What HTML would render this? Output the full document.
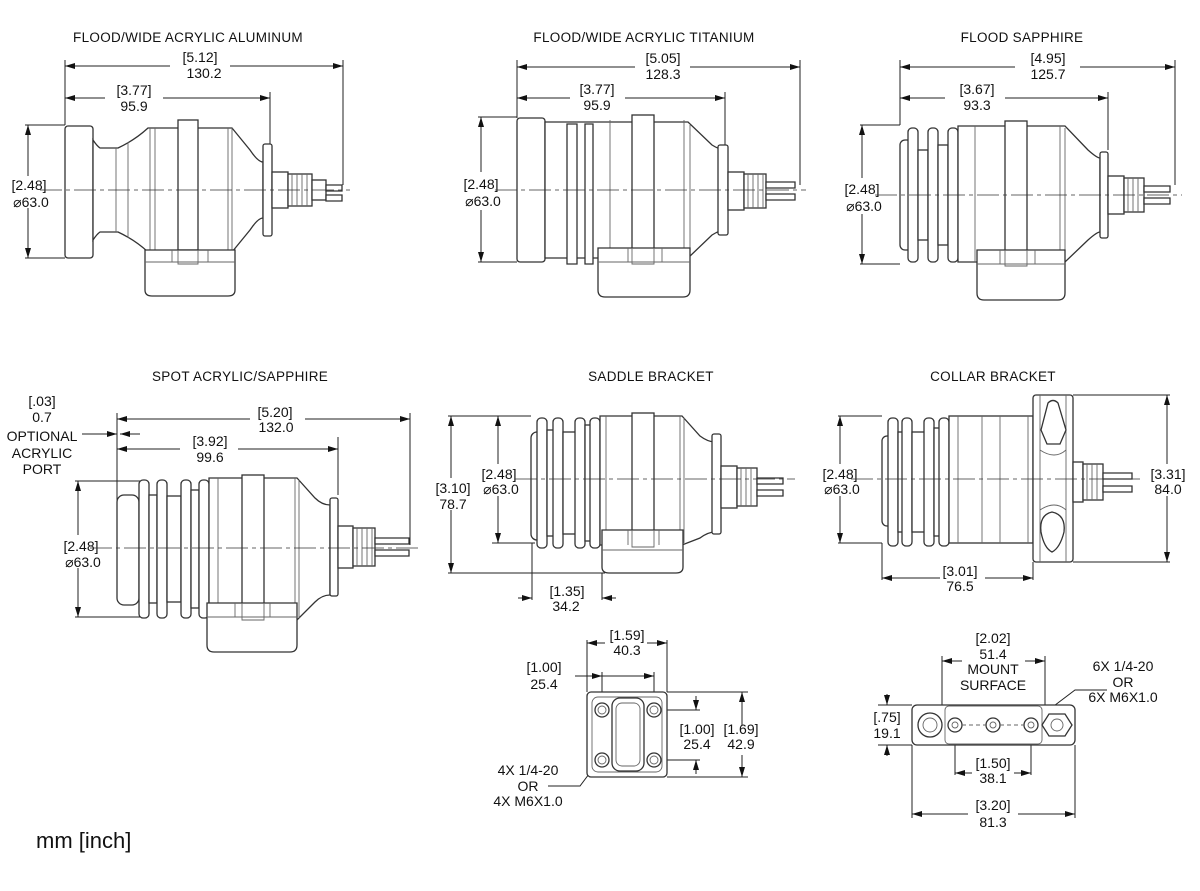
<!DOCTYPE html>
<html><head><meta charset="utf-8"><style>
html,body{margin:0;padding:0;background:#fff}
svg{display:block}
text{font-family:"Liberation Sans",Arial,sans-serif;font-size:14px;fill:#111}
.t{font-size:13.5px;letter-spacing:0.3px}
.d{stroke:#222;stroke-width:1;fill:none}
.b{stroke:#333;stroke-width:1.3;fill:#fff}
.l{stroke:#666;stroke-width:0.9;fill:none}
.c{stroke:#333;stroke-width:0.8;fill:none;stroke-dasharray:22 4 4 4}
</style></head><body>
<svg width="1200" height="891" viewBox="0 0 1200 891" xmlns="http://www.w3.org/2000/svg">
<defs>
<marker id="a" viewBox="0 0 10 6" refX="10" refY="3" markerWidth="10" markerHeight="6" orient="auto-start-reverse" markerUnits="userSpaceOnUse"><path d="M0,0 L10,3 L0,6z" fill="#111"/></marker>
</defs>
<g text-anchor="middle">
<text class="t" x="188" y="42">FLOOD/WIDE ACRYLIC ALUMINUM</text>
<text class="t" x="644" y="42">FLOOD/WIDE ACRYLIC TITANIUM</text>
<text class="t" x="1022" y="42">FLOOD SAPPHIRE</text>
<text class="t" x="240" y="381">SPOT ACRYLIC/SAPPHIRE</text>
<text class="t" x="651" y="381">SADDLE BRACKET</text>
<text class="t" x="993" y="381">COLLAR BRACKET</text>

<!-- ===== D1 ===== -->
<path class="d" d="M65,60V125 M343,60V185 M270,92V150 M25,125H65 M25,258H65"/>
<line class="d" x1="65" y1="66" x2="170" y2="66" marker-start="url(#a)"/><line class="d" x1="230" y1="66" x2="343" y2="66" marker-end="url(#a)"/>
<line class="d" x1="65" y1="98" x2="105" y2="98" marker-start="url(#a)"/><line class="d" x1="163" y1="98" x2="270" y2="98" marker-end="url(#a)"/>
<line class="d" x1="28" y1="125" x2="28" y2="176" marker-start="url(#a)"/><line class="d" x1="28" y1="208" x2="28" y2="258" marker-end="url(#a)"/>
<text x="200" y="62">[5.12]</text><text x="204" y="78">130.2</text>
<text x="134" y="95">[3.77]</text><text x="134" y="111">95.9</text>
<text x="29" y="190">[2.48]</text><text x="31" y="207">⌀63.0</text>
<g>
<rect class="b" x="65" y="126" width="28" height="132" rx="3"/>
<path class="b" d="M93,140 Q97,146 100,148 H118 Q135,140 148,128 H232 L250,150 Q258,162 263,162 V218 Q258,218 250,230 L232,252 H148 Q135,240 118,232 H100 Q97,234 93,240Z"/>
<path class="l" d="M116,148V232 M128,142V238 M150,128V252 M155,128V252 M228,128V252 M232,128V252"/>
<rect class="b" x="178" y="120" width="20" height="130"/>
<rect class="b" x="263" y="144" width="9" height="92" rx="2"/>
<rect class="b" x="272" y="172" width="16" height="36"/>
<rect class="b" x="288" y="174" width="24" height="32"/>
<path class="l" d="M292,174V206 M297,174V206 M302,174V206 M307,174V206"/>
<rect class="b" x="312" y="180" width="14" height="20"/>
<path class="b" d="M326,185H342V191H326Z M326,195H342V201H326Z"/>
<path class="b" d="M145,250 H235 V290 Q235,296 228,296 H152 Q145,296 145,290Z"/>
<path class="l" d="M145,262H235 M172,250V262 M208,250V262 M178,250 V264 H198 V250"/>
</g>
<line class="c" x1="40" y1="190" x2="350" y2="190"/>

<!-- ===== D2 ===== -->
<path class="d" d="M517,60V118 M800,60V185 M725,92V150 M478,117H517 M478,262H517"/>
<line class="d" x1="517" y1="67" x2="635" y2="67" marker-start="url(#a)"/><line class="d" x1="690" y1="67" x2="800" y2="67" marker-end="url(#a)"/>
<line class="d" x1="517" y1="98" x2="570" y2="98" marker-start="url(#a)"/><line class="d" x1="625" y1="98" x2="725" y2="98" marker-end="url(#a)"/>
<line class="d" x1="481" y1="117" x2="481" y2="172" marker-start="url(#a)"/><line class="d" x1="481" y1="210" x2="481" y2="262" marker-end="url(#a)"/>
<text x="663" y="63">[5.05]</text><text x="663" y="79">128.3</text>
<text x="597" y="94">[3.77]</text><text x="597" y="110">95.9</text>
<text x="481" y="189">[2.48]</text><text x="483" y="206">⌀63.0</text>
<g>
<rect class="b" x="517" y="118" width="28" height="144" rx="3"/>
<path class="b" d="M545,122 H688 L712,145 Q720,150 725,150 V230 Q720,230 712,235 L688,258 H545Z"/>
<path class="b" d="M567,124h10v140h-10z M585,124h8v140h-8z"/>
<path class="l" d="M610,120V260 M684,120V260 M690,125V255"/>
<rect class="b" x="632" y="115" width="22" height="145"/>
<rect class="b" x="718" y="145" width="10" height="90" rx="2"/>
<rect class="b" x="728" y="172" width="16" height="38"/>
<rect class="b" x="744" y="174" width="22" height="34"/>
<path class="l" d="M748,174V208 M753,174V208 M758,174V208 M763,174V208"/>
<path class="b" d="M766,182H795V188H766Z M766,194H795V200H766Z"/>
<path class="b" d="M598,248 H690 V290 Q690,297 683,297 H605 Q598,297 598,290Z"/>
<path class="l" d="M598,262H690 M628,248V262 M662,248V262 M632,248 V264 H654 V248"/>
</g>
<line class="c" x1="495" y1="190" x2="806" y2="190"/>

<!-- ===== D3 ===== -->
<path class="d" d="M900,60V125 M1175,60V185 M1108,92V150 M860,125H900 M860,264H900"/>
<line class="d" x1="900" y1="67" x2="1015" y2="67" marker-start="url(#a)"/><line class="d" x1="1080" y1="67" x2="1175" y2="67" marker-end="url(#a)"/>
<line class="d" x1="900" y1="98" x2="945" y2="98" marker-start="url(#a)"/><line class="d" x1="1005" y1="98" x2="1108" y2="98" marker-end="url(#a)"/>
<line class="d" x1="862" y1="125" x2="862" y2="178" marker-start="url(#a)"/><line class="d" x1="862" y1="214" x2="862" y2="264" marker-end="url(#a)"/>
<text x="1048" y="63">[4.95]</text><text x="1048" y="79">125.7</text>
<text x="977" y="94">[3.67]</text><text x="977" y="110">93.3</text>
<text x="862" y="194">[2.48]</text><text x="864" y="211">⌀63.0</text>
<g>
<rect class="b" x="900" y="140" width="12" height="110" rx="5"/>
<rect class="b" x="908" y="128" width="10" height="134" rx="4"/>
<rect class="b" x="918" y="150" width="10" height="90"/>
<rect class="b" x="928" y="128" width="10" height="134" rx="4"/>
<rect class="b" x="938" y="145" width="10" height="100"/>
<rect class="b" x="948" y="128" width="10" height="134" rx="4"/>
<path class="b" d="M958,126 H1065 L1088,150 Q1097,158 1100,158 V232 Q1097,232 1088,240 L1065,262 H958Z"/>
<path class="l" d="M975,126V262 M1060,126V262 M1065,128V262"/>
<rect class="b" x="1005" y="121" width="22" height="140"/>
<rect class="b" x="1100" y="152" width="8" height="86" rx="2"/>
<rect class="b" x="1108" y="176" width="16" height="38"/>
<rect class="b" x="1124" y="178" width="20" height="34"/>
<path class="l" d="M1128,178V212 M1133,178V212 M1138,178V212"/>
<path class="b" d="M1144,186H1170V192H1144Z M1144,198H1170V204H1144Z"/>
<path class="b" d="M977,250 H1065 V293 Q1065,300 1058,300 H984 Q977,300 977,293Z"/>
<path class="l" d="M977,264H1065 M1000,250V264 M1035,250V264 M1005,250 V266 H1027 V250"/>
</g>
<line class="c" x1="875" y1="195" x2="1182" y2="195"/>

<!-- ===== D4 ===== -->
<text x="42" y="406">[.03]</text><text x="42" y="422">0.7</text>
<text x="42" y="441">OPTIONAL</text><text x="42" y="458">ACRYLIC</text><text x="42" y="474">PORT</text>
<line class="d" x1="82" y1="434" x2="117" y2="434" marker-end="url(#a)"/>
<line class="d" x1="140" y1="434" x2="120" y2="434" marker-end="url(#a)"/>
<path class="d" d="M117,413V560 M410,413V545 M338,437V495 M75,481H140 M75,617H140"/>
<line class="d" x1="117" y1="419" x2="250" y2="419" marker-start="url(#a)"/><line class="d" x1="305" y1="419" x2="410" y2="419" marker-end="url(#a)"/>
<line class="d" x1="117" y1="449" x2="180" y2="449" marker-start="url(#a)"/><line class="d" x1="238" y1="449" x2="338" y2="449" marker-end="url(#a)"/>
<line class="d" x1="78" y1="481" x2="78" y2="535" marker-start="url(#a)"/><line class="d" x1="78" y1="568" x2="78" y2="617" marker-end="url(#a)"/>
<text x="275" y="417">[5.20]</text><text x="276" y="432">132.0</text>
<text x="210" y="446">[3.92]</text><text x="210" y="462">99.6</text>
<text x="81" y="551">[2.48]</text><text x="83" y="567">⌀63.0</text>
<g>
<rect class="b" x="117" y="495" width="22" height="110" rx="7"/>
<rect class="b" x="139" y="480" width="10" height="138" rx="4"/>
<rect class="b" x="149" y="495" width="8" height="108"/>
<rect class="b" x="157" y="480" width="10" height="138" rx="4"/>
<rect class="b" x="167" y="496" width="14" height="106"/>
<rect class="b" x="181" y="480" width="10" height="138" rx="4"/>
<rect class="b" x="191" y="490" width="8" height="118"/>
<rect class="b" x="199" y="480" width="10" height="138" rx="4"/>
<path class="b" d="M209,478 H297 L315,498 Q322,505 330,505 V595 Q322,595 315,602 L297,620 H209Z"/>
<path class="l" d="M218,478V620 M295,478V620 M299,480V618"/>
<rect class="b" x="242" y="475" width="22" height="144"/>
<rect class="b" x="330" y="498" width="8" height="98" rx="2"/>
<rect class="b" x="338" y="526" width="15" height="42"/>
<rect class="b" x="353" y="528" width="22" height="38"/>
<path class="l" d="M357,528V566 M362,528V566 M367,528V566 M372,528V566"/>
<path class="b" d="M375,538H409V544H375Z M375,550H409V556H375Z"/>
<path class="b" d="M207,603 H297 V645 Q297,652 290,652 H214 Q207,652 207,645Z"/>
<path class="l" d="M207,617H297 M235,603V617 M270,603V617 M242,603 V620 H264 V603"/>
</g>
<line class="c" x1="90" y1="548" x2="418" y2="548"/>

<!-- ===== D5 ===== -->
<path class="d" d="M448,416H531 M448,573H605 M492,416H531 M492,543H535 M532,543V600 M602,573V600"/>
<line class="d" x1="451" y1="416" x2="451" y2="478" marker-start="url(#a)"/><line class="d" x1="451" y1="510" x2="451" y2="573" marker-end="url(#a)"/>
<line class="d" x1="498" y1="416" x2="498" y2="464" marker-start="url(#a)"/><line class="d" x1="498" y1="496" x2="498" y2="543" marker-end="url(#a)"/>
<line class="d" x1="518" y1="598" x2="532" y2="598" marker-end="url(#a)"/><line class="d" x1="616" y1="598" x2="602" y2="598" marker-end="url(#a)"/>
<text x="453" y="493">[3.10]</text><text x="453" y="509">78.7</text>
<text x="499" y="479">[2.48]</text><text x="501" y="494">⌀63.0</text>
<text x="567" y="596">[1.35]</text><text x="566" y="611">34.2</text>
<g>
<rect class="b" x="531" y="432" width="12" height="108" rx="6"/>
<rect class="b" x="537" y="418" width="10" height="130" rx="4"/>
<rect class="b" x="547" y="430" width="8" height="106"/>
<rect class="b" x="553" y="418" width="10" height="130" rx="4"/>
<rect class="b" x="563" y="432" width="14" height="102"/>
<rect class="b" x="575" y="418" width="10" height="130" rx="4"/>
<rect class="b" x="585" y="425" width="6" height="116"/>
<rect class="b" x="590" y="418" width="10" height="130" rx="4"/>
<path class="b" d="M600,416 H682 L700,436 Q708,442 715,442 V532 Q708,532 700,538 L682,545 H600Z"/>
<path class="l" d="M606,416V545 M680,416V545 M684,418V543"/>
<rect class="b" x="632" y="413" width="22" height="130"/>
<rect class="b" x="712" y="434" width="9" height="100" rx="2"/>
<rect class="b" x="721" y="466" width="16" height="42"/>
<rect class="b" x="737" y="468" width="20" height="38"/>
<path class="l" d="M741,468V506 M746,468V506 M751,468V506"/>
<path class="b" d="M757,478H783V484H757Z M757,490H783V496H757Z"/>
<path class="b" d="M602,530 H683 V567 Q683,573 676,573 H609 Q602,573 602,567Z"/>
<path class="l" d="M602,550H683 M628,530V545 M659,530V545 M632,530 V547 H654 V530"/>
</g>
<line class="c" x1="515" y1="479" x2="795" y2="479"/>

<!-- D7 saddle bottom -->
<path class="d" d="M587,640V692 M667,640V692 M602,672V760 M654,672V760 M667,692H748 M667,777H748 M660,710H700 M660,760H700"/>
<line class="d" x1="587" y1="643" x2="605" y2="643" marker-start="url(#a)"/><line class="d" x1="647" y1="643" x2="667" y2="643" marker-end="url(#a)"/>
<line class="d" x1="575" y1="676" x2="602" y2="676" marker-end="url(#a)"/><line class="d" x1="602" y1="676" x2="654" y2="676" marker-end="url(#a)"/>
<line class="d" x1="696" y1="696" x2="696" y2="710" marker-end="url(#a)"/><line class="d" x1="696" y1="774" x2="696" y2="760" marker-end="url(#a)"/>
<line class="d" x1="742" y1="692" x2="742" y2="725" marker-start="url(#a)"/><line class="d" x1="742" y1="755" x2="742" y2="777" marker-end="url(#a)"/>
<text x="627" y="640">[1.59]</text><text x="627" y="655">40.3</text>
<text x="544" y="672">[1.00]</text><text x="544" y="689">25.4</text>
<text x="697" y="734">[1.00]</text><text x="697" y="749">25.4</text>
<text x="741" y="734">[1.69]</text><text x="741" y="749">42.9</text>
<text x="528" y="775">4X 1/4-20</text><text x="528" y="791">OR</text><text x="528" y="806">4X M6X1.0</text>
<path class="d" d="M548,786H580L595,766"/>
<g>
<rect class="b" x="587" y="692" width="80" height="85" rx="4"/>
<rect class="l" x="592" y="697" width="70" height="75" rx="6"/>
<rect class="b" x="612" y="698" width="32" height="73" rx="8"/>
<rect class="l" x="616" y="703" width="24" height="63" rx="6"/>
<circle class="b" cx="602" cy="710" r="7"/><circle class="b" cx="654" cy="710" r="7"/>
<circle class="b" cx="602" cy="760" r="7"/><circle class="b" cx="654" cy="760" r="7"/>
<circle class="l" cx="602" cy="710" r="4"/><circle class="l" cx="654" cy="710" r="4"/>
<circle class="l" cx="602" cy="760" r="4"/><circle class="l" cx="654" cy="760" r="4"/>
</g>

<!-- ===== D6 ===== -->
<path class="d" d="M838,416H882 M838,543H882 M1073,395H1170 M1073,562H1170 M882,543V580 M1033,562V580"/>
<line class="d" x1="840" y1="416" x2="840" y2="464" marker-start="url(#a)"/><line class="d" x1="840" y1="496" x2="840" y2="543" marker-end="url(#a)"/>
<line class="d" x1="1167" y1="395" x2="1167" y2="464" marker-start="url(#a)"/><line class="d" x1="1167" y1="496" x2="1167" y2="562" marker-end="url(#a)"/>
<line class="d" x1="882" y1="578" x2="940" y2="578" marker-start="url(#a)"/><line class="d" x1="985" y1="578" x2="1033" y2="578" marker-end="url(#a)"/>
<text x="840" y="479">[2.48]</text><text x="842" y="494">⌀63.0</text>
<text x="1168" y="479">[3.31]</text><text x="1168" y="494">84.0</text>
<text x="960" y="576">[3.01]</text><text x="960" y="591">76.5</text>
<g>
<rect class="b" x="882" y="436" width="12" height="90" rx="5"/>
<rect class="b" x="888" y="418" width="10" height="128" rx="4"/>
<rect class="b" x="898" y="432" width="8" height="100"/>
<rect class="b" x="902" y="418" width="10" height="128" rx="4"/>
<rect class="b" x="912" y="432" width="14" height="100"/>
<rect class="b" x="924" y="418" width="10" height="128" rx="4"/>
<rect class="b" x="934" y="428" width="6" height="108"/>
<rect class="b" x="939" y="418" width="10" height="128" rx="4"/>
<rect class="b" x="949" y="416" width="84" height="127"/>
<path class="l" d="M958,416V543 M982,416V543 M1000,416V543 M1028,416V543"/>
<rect class="b" x="1033" y="395" width="40" height="167" rx="3"/>
<path class="l" d="M1040,395V562 M1066,395V562 M1040,450Q1055,460 1066,450 M1040,510Q1055,500 1066,510"/>
<path class="b" d="M1048,403 Q1053,398 1058,403 L1066,430 L1060,444 H1047 L1041,430Z"/>
<path class="b" d="M1052,512 Q1066,515 1064,532 Q1060,548 1052,552 Q1044,548 1041,532 Q1039,515 1052,512Z"/>
<rect class="b" x="1073" y="462" width="10" height="40"/>
<rect class="b" x="1083" y="464" width="20" height="36"/>
<path class="l" d="M1087,464V500 M1092,464V500 M1097,464V500"/>
<path class="b" d="M1103,473H1132V479H1103Z M1103,486H1132V492H1103Z"/>
</g>
<line class="c" x1="851" y1="479" x2="1140" y2="479"/>

<!-- D8 collar bottom -->
<path class="d" d="M942,656V706 M1045,656V706 M955,725V775 M1031,725V775 M912,745V818 M1075,745V818 M878,705H912 M878,745H912"/>
<line class="d" x1="942" y1="661" x2="962" y2="661" marker-start="url(#a)"/><line class="d" x1="1025" y1="661" x2="1045" y2="661" marker-end="url(#a)"/>
<line class="d" x1="887" y1="694" x2="887" y2="705" marker-end="url(#a)"/><line class="d" x1="887" y1="756" x2="887" y2="745" marker-end="url(#a)"/>
<line class="d" x1="955" y1="773" x2="972" y2="773" marker-start="url(#a)"/><line class="d" x1="1014" y1="773" x2="1031" y2="773" marker-end="url(#a)"/>
<line class="d" x1="912" y1="814" x2="968" y2="814" marker-start="url(#a)"/><line class="d" x1="1018" y1="814" x2="1075" y2="814" marker-end="url(#a)"/>
<text x="993" y="643">[2.02]</text><text x="993" y="659">51.4</text>
<text x="993" y="674">MOUNT</text><text x="993" y="690">SURFACE</text>
<text x="887" y="722">[.75]</text><text x="887" y="738">19.1</text>
<text x="993" y="768">[1.50]</text><text x="993" y="783">38.1</text>
<text x="993" y="810">[3.20]</text><text x="993" y="827">81.3</text>
<text x="1123" y="671">6X 1/4-20</text><text x="1123" y="687">OR</text><text x="1123" y="702">6X M6X1.0</text>
<path class="d" d="M1107,690 H1075 L1038,718"/>
<g>
<rect class="b" x="912" y="705" width="163" height="40" rx="5"/>
<rect class="l" x="945" y="706" width="97" height="38" rx="4"/>
<circle class="b" cx="930" cy="725" r="12"/><circle class="l" cx="930" cy="725" r="7"/>
<circle class="b" cx="955" cy="725" r="7"/><circle class="l" cx="955" cy="725" r="3"/>
<circle class="b" cx="993" cy="725" r="7"/><circle class="l" cx="993" cy="725" r="3"/>
<circle class="b" cx="1031" cy="725" r="7"/><circle class="l" cx="1031" cy="725" r="3"/>
<path class="b" d="M1049,714 H1065 L1072,725 L1065,736 H1049 L1042,725Z"/>
<circle class="l" cx="1057" cy="725" r="6"/>
<path class="l" d="M962,725H986 M1000,725H1024" stroke-dasharray="4 3"/>
</g>
</g>
<text x="36" y="848" style="font-size:22px">mm [inch]</text>
</svg>
</body></html>
